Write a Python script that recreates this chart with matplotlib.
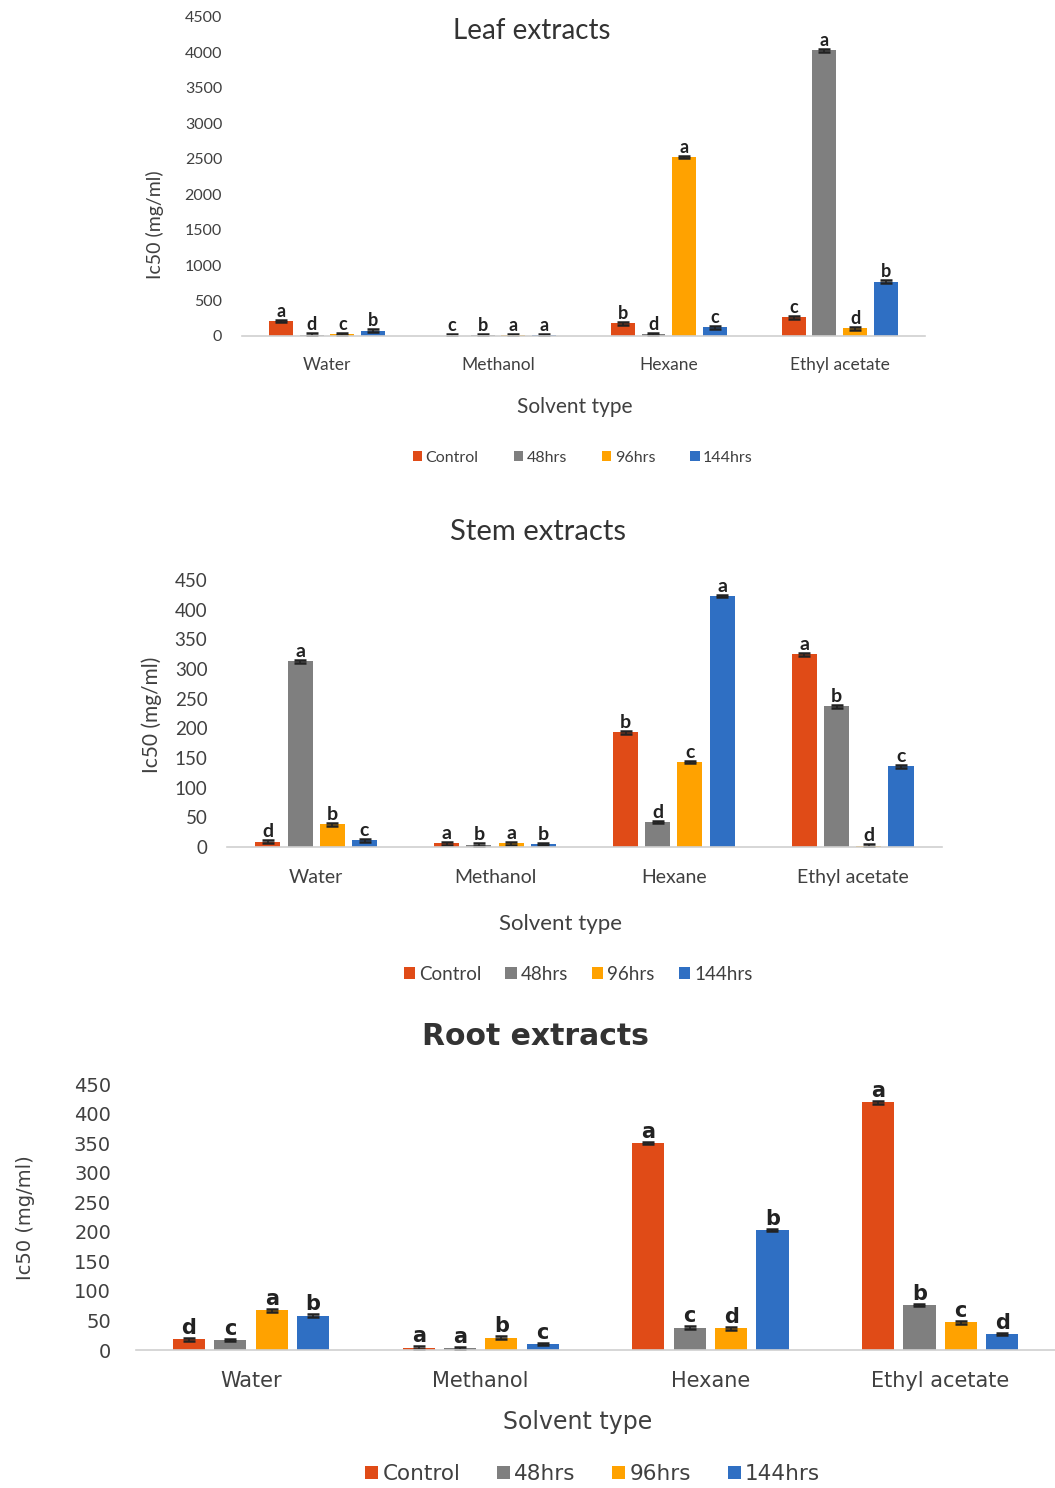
import numpy as np
import matplotlib
matplotlib.use("Agg")
import matplotlib.pyplot as plt

solvents = ["Water", "Methanol", "Hexane", "Ethyl acetate"]
series = ["Control", "48hrs", "96hrs", "144hrs"]
colors = ["#E04B17", "#7F7F7F", "#FFA200", "#2F6FC3"]

# IC50 values, rows = solvents, cols = series
leaf_vals = [[210, 18, 25, 75],
             [5, 8, 8, 8],
             [178, 30, 2527, 122],
             [263, 4030, 108, 766]]
leaf_letters = [["a", "d", "c", "b"],
                ["c", "b", "a", "a"],
                ["b", "d", "a", "c"],
                ["c", "a", "d", "b"]]

stem_vals = [[9, 313, 38, 11],
             [6, 4, 6, 5],
             [193, 42, 143, 423],
             [325, 237, 2, 136]]
stem_letters = [["d", "a", "b", "c"],
                ["a", "b", "a", "b"],
                ["b", "d", "c", "a"],
                ["a", "b", "d", "c"]]

root_vals = [[18, 17, 67, 58],
             [4, 3, 21, 10],
             [350, 38, 37, 203],
             [419, 76, 47, 27]]
root_letters = [["d", "c", "a", "b"],
                ["a", "a", "b", "c"],
                ["a", "c", "d", "b"],
                ["a", "b", "c", "d"]]

fig = plt.figure(figsize=(10.55, 14.88), dpi=100)

# layout + font sizes per panel (leaf/stem look like Calibri, root like Verdana)
panels = [
    dict(vals=leaf_vals, letters=leaf_letters, title="Leaf extracts",
         rect=[0.229, 0.7742, 0.648, 0.2144], ylim=4500, step=500,
         font="Lato", ytick=11.5, xtick=12.5, ylab=14, xlab=15, legsize=11.5,
         tsize=20, tbold=False, title_xy=(0.425, 0.956), lsize=13,
         ylab_xy=(-0.127, 0.348), xlab_xy=(0.488, -0.223), leg_xy=(0.499, -0.382),
         ypad=14, xpad=15, colsp=2.2, errfrac=0.004),
    dict(vals=stem_vals, letters=stem_letters, title="Stem extracts",
         rect=[0.215, 0.4308, 0.678, 0.1794], ylim=450, step=50,
         font="Lato", ytick=13.5, xtick=14, ylab=15, xlab=16, legsize=13.5,
         tsize=21, tbold=False, title_xy=(0.435, 1.18), lsize=14,
         ylab_xy=(-0.105, 0.494), xlab_xy=(0.466, -0.288), leg_xy=(0.491, -0.476),
         ypad=14, xpad=16, colsp=1.3, errfrac=0.005),
    dict(vals=root_vals, letters=root_letters, title="Root extracts",
         rect=[0.129, 0.0927, 0.871, 0.1788], ylim=450, step=50,
         font="DejaVu Sans", ytick=14, xtick=15, ylab=14, xlab=17, legsize=15.5,
         tsize=21.5, tbold=True, title_xy=(0.435, 1.18), lsize=15,
         ylab_xy=(-0.12, 0.496), xlab_xy=(0.48, -0.271), leg_xy=(0.497, -0.466),
         ypad=18, xpad=15, colsp=1.7, errfrac=0.005),
]

offsets = [-0.27, -0.09, 0.09, 0.27]
width = 0.14
x = np.arange(len(solvents))

for p in panels:
    ax = fig.add_axes(p["rect"])
    vals = np.array(p["vals"], dtype=float)
    err = p["ylim"] * p["errfrac"]
    for j, name in enumerate(series):
        ax.bar(x + offsets[j], vals[:, j], width, color=colors[j], label=name,
               yerr=err, error_kw=dict(ecolor="#222222", capsize=4, elinewidth=1.2,
                                       capthick=1.8))
        for i in range(len(solvents)):
            ax.text(x[i] + offsets[j], vals[i, j] + err, p["letters"][i][j],
                    ha="center", va="bottom", fontsize=p["lsize"], fontweight="bold",
                    family=p["font"], color="#222222")
    ax.set_xlim(-0.5, 3.5)
    ax.set_ylim(0, p["ylim"])
    ax.set_yticks(np.arange(0, p["ylim"] + 1, p["step"]))
    ax.set_xticks(x)
    ax.set_xticklabels(solvents, family=p["font"], fontsize=p["xtick"], color="#404040")
    for lab in ax.get_yticklabels():
        lab.set_family(p["font"])
        lab.set_fontsize(p["ytick"])
        lab.set_color("#404040")
    ax.tick_params(axis="both", length=0)
    ax.tick_params(axis="x", pad=p["xpad"])
    ax.tick_params(axis="y", pad=p["ypad"])
    for s in ["top", "right", "left"]:
        ax.spines[s].set_visible(False)
    ax.spines["bottom"].set_color("#D0D0D0")
    ax.spines["bottom"].set_linewidth(1.2)
    ax.set_facecolor("none")

    ax.text(*p["title_xy"], p["title"], transform=ax.transAxes, ha="center", va="center",
            fontsize=p["tsize"], family=p["font"], color="#333333",
            fontweight="bold" if p["tbold"] else "normal")
    ax.text(*p["ylab_xy"], "Ic50 (mg/ml)", transform=ax.transAxes, rotation=90,
            ha="center", va="center", fontsize=p["ylab"], family=p["font"],
            color="#404040")
    ax.text(*p["xlab_xy"], "Solvent type", transform=ax.transAxes, ha="center",
            va="center", fontsize=p["xlab"], family=p["font"], color="#404040")
    leg = ax.legend(loc="center", bbox_to_anchor=p["leg_xy"], ncol=4, frameon=False,
                    handlelength=0.6, handleheight=0.6, handletextpad=0.2,
                    columnspacing=p["colsp"], prop=dict(family=p["font"], size=p["legsize"]))
    for t in leg.get_texts():
        t.set_color("#404040")

fig.savefig("out.png", dpi=100)
